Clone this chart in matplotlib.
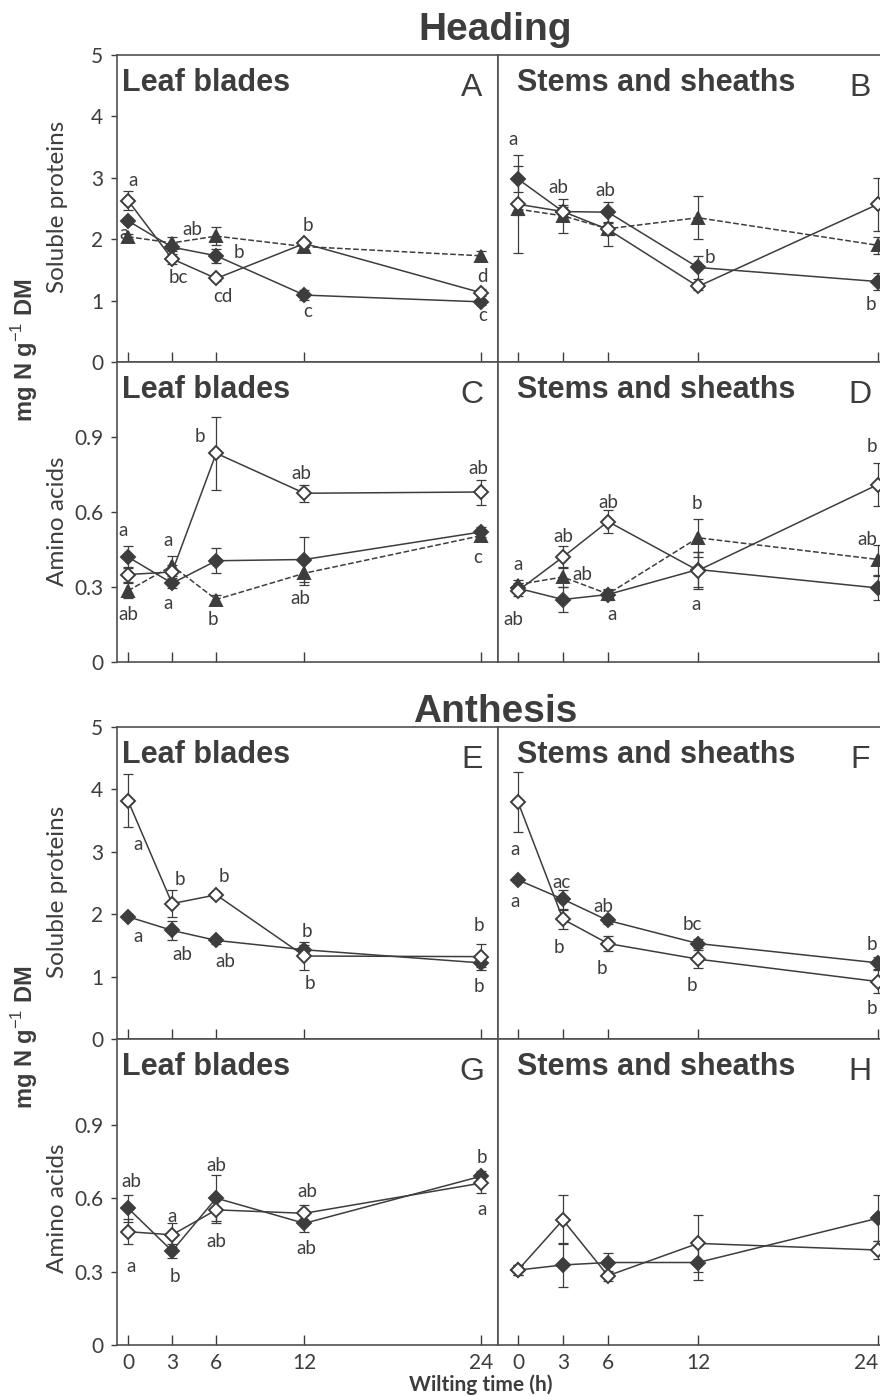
import matplotlib
matplotlib.use('Agg')
import matplotlib.pyplot as plt

plt.rcParams['font.family'] = ['Lato', 'DejaVu Sans']
plt.rcParams['mathtext.fontset'] = 'custom'
plt.rcParams['mathtext.rm'] = 'Liberation Sans'
plt.rcParams['mathtext.bf'] = 'Liberation Sans:bold'

GREY = '#3d3d3d'
W, H = 880, 1396

hours = [0, 3, 6, 12, 24]

# Heading - soluble proteins, leaf blades (A)
a_open = [2.63, 1.68, 1.36, 1.93, 1.13]
a_open_err = [0.15, 0.08, 0.04, 0.05, 0.06]
a_fill = [2.30, 1.87, 1.73, 1.09, 0.98]
a_fill_err = [0.05, 0.06, 0.11, 0.08, 0.05]
a_tri = [2.04, 1.94, 2.05, 1.88, 1.73]
a_tri_err = [0.04, 0.10, 0.15, 0.05, 0.08]
a_letters = [(0.35, 2.95, 'a'), (-0.3, 2.10, 'a'), (4.4, 2.16, 'ab'), (3.4, 1.37, 'bc'),
             (7.55, 1.78, 'b'), (6.45, 1.06, 'cd'), (12.25, 2.22, 'b'), (12.25, 0.82, 'c'),
             (24.1, 1.39, 'd'), (24.1, 0.75, 'c')]

# Heading - soluble proteins, stems and sheaths (B)
b_open = [2.57, 2.45, 2.16, 1.23, 2.57]
b_open_err = [0.80, 0.10, 0.27, 0.05, 0.43]
b_fill = [2.98, 2.45, 2.44, 1.54, 1.31]
b_fill_err = [0.21, 0.08, 0.16, 0.19, 0.14]
b_tri = [2.49, 2.38, 2.17, 2.35, 1.90]
b_tri_err = [0.10, 0.28, 0.10, 0.35, 0.14]
b_letters = [(-0.3, 3.62, 'a'), (2.7, 2.84, 'ab'), (5.8, 2.79, 'ab'), (12.8, 1.71, 'b'),
             (23.5, 0.93, 'b')]

# Heading - amino acids, leaf blades (C)
c_open = [0.35, 0.36, 0.835, 0.675, 0.68]
c_open_err = [0.03, 0.03, 0.145, 0.035, 0.05]
c_fill = [0.42, 0.315, 0.405, 0.41, 0.52]
c_fill_err = [0.045, 0.02, 0.05, 0.09, 0.02]
c_tri = [0.285, 0.385, 0.25, 0.355, 0.505]
c_tri_err = [0.03, 0.04, 0.02, 0.045, 0.02]
c_letters = [(-0.35, 0.524, 'a'), (0.0, 0.19, 'ab'), (2.7, 0.484, 'a'), (2.7, 0.235, 'a'),
             (4.9, 0.90, 'b'), (5.8, 0.17, 'b'), (11.8, 0.754, 'ab'), (11.7, 0.255, 'ab'),
             (23.8, 0.774, 'ab'), (23.8, 0.417, 'c')]

# Heading - amino acids, stems and sheaths (D)
d_open = [0.285, 0.42, 0.562, 0.366, 0.71]
d_open_err = [0.02, 0.045, 0.045, 0.075, 0.085]
d_fill = [0.295, 0.25, 0.27, 0.37, 0.296]
d_fill_err = [0.02, 0.05, 0.02, 0.07, 0.047]
d_tri = [0.31, 0.34, 0.272, 0.497, 0.41]
d_tri_err = [0.02, 0.04, 0.02, 0.075, 0.06]
d_letters = [(0.0, 0.39, 'a'), (-0.3, 0.17, 'ab'), (3.0, 0.50, 'ab'), (4.3, 0.35, 'ab'),
             (6.0, 0.638, 'ab'), (6.3, 0.19, 'a'), (11.9, 0.633, 'b'), (11.9, 0.231, 'a'),
             (23.6, 0.86, 'b'), (23.3, 0.49, 'ab')]

# Anthesis - soluble proteins, leaf blades (E)
e_open = [3.82, 2.17, 2.31, 1.33, 1.32]
e_open_err = [0.42, 0.22, 0.05, 0.22, 0.21]
e_fill = [1.96, 1.74, 1.58, 1.43, 1.22]
e_fill_err = [0.04, 0.15, 0.05, 0.08, 0.07]
e_letters = [(0.7, 3.11, 'a'), (3.5, 2.55, 'b'), (6.5, 2.60, 'b'), (0.7, 1.65, 'a'),
             (3.7, 1.36, 'ab'), (6.6, 1.24, 'ab'), (12.2, 1.72, 'b'), (12.4, 0.89, 'b'),
             (23.9, 1.82, 'b'), (23.9, 0.84, 'b')]

# Anthesis - soluble proteins, stems and sheaths (F)
f_open = [3.80, 1.92, 1.53, 1.28, 0.92]
f_open_err = [0.48, 0.15, 0.12, 0.15, 0.19]
f_fill = [2.55, 2.24, 1.90, 1.53, 1.22]
f_fill_err = [0.04, 0.15, 0.06, 0.07, 0.10]
f_letters = [(-0.2, 3.03, 'a'), (-0.2, 2.20, 'a'), (2.9, 2.50, 'ac'), (2.7, 1.47, 'b'),
             (5.7, 2.12, 'ab'), (5.6, 1.13, 'b'), (11.6, 1.83, 'bc'), (11.6, 0.85, 'b'),
             (23.6, 1.51, 'b'), (23.6, 0.49, 'b')]

# Anthesis - amino acids, leaf blades (G)
g_open = [0.463, 0.45, 0.552, 0.538, 0.661]
g_open_err = [0.05, 0.05, 0.055, 0.035, 0.04]
g_fill = [0.559, 0.384, 0.60, 0.497, 0.689]
g_fill_err = [0.055, 0.03, 0.095, 0.035, 0.02]
g_letters = [(0.2, 0.668, 'ab'), (0.2, 0.32, 'a'), (3.0, 0.525, 'a'), (3.2, 0.279, 'b'),
             (6.0, 0.734, 'ab'), (6.0, 0.422, 'ab'), (12.2, 0.627, 'ab'), (12.1, 0.395, 'ab'),
             (24.1, 0.766, 'b'), (24.1, 0.552, 'a')]

# Anthesis - amino acids, stems and sheaths (H)
h_open = [0.306, 0.511, 0.283, 0.415, 0.388]
h_open_err = [0.02, 0.10, 0.02, 0.115, 0.035]
h_fill = [0.306, 0.327, 0.337, 0.337, 0.518]
h_fill_err = [0.02, 0.09, 0.04, 0.07, 0.095]
h_letters = []

prot_ticks = [0, 1, 2, 3, 4, 5]
amino_ticks = [0, 0.3, 0.6, 0.9]
amino_ticklabels = ['0', '0.3', '0.6', '0.9']


def px(x, y):
    return x / W, 1 - y / H


fig = plt.figure(figsize=(W / 100, H / 100), dpi=100)

# panel edges in pixels: (left, right), (top, bottom)
cols = [(117, 498), (498, 884)]
xlims = [(-0.75, 25.17), (-1.33, 24.4)]
rows = [(55, 362), (362, 662), (727, 1039), (1039, 1345)]
ylims = [(0, 5), (0, 1.2), (0, 5), (0, 1.25)]

panels = [
    ('A', 0, 0, [(a_tri, a_tri_err, 'tri'), (a_fill, a_fill_err, 'fill'), (a_open, a_open_err, 'open')], a_letters),
    ('B', 0, 1, [(b_tri, b_tri_err, 'tri'), (b_fill, b_fill_err, 'fill'), (b_open, b_open_err, 'open')], b_letters),
    ('C', 1, 0, [(c_tri, c_tri_err, 'tri'), (c_fill, c_fill_err, 'fill'), (c_open, c_open_err, 'open')], c_letters),
    ('D', 1, 1, [(d_tri, d_tri_err, 'tri'), (d_fill, d_fill_err, 'fill'), (d_open, d_open_err, 'open')], d_letters),
    ('E', 2, 0, [(e_fill, e_fill_err, 'fill'), (e_open, e_open_err, 'open')], e_letters),
    ('F', 2, 1, [(f_fill, f_fill_err, 'fill'), (f_open, f_open_err, 'open')], f_letters),
    ('G', 3, 0, [(g_fill, g_fill_err, 'fill'), (g_open, g_open_err, 'open')], g_letters),
    ('H', 3, 1, [(h_fill, h_fill_err, 'fill'), (h_open, h_open_err, 'open')], h_letters),
]

for name, r, c, series, letters in panels:
    (x0, x1), (y0, y1) = cols[c], rows[r]
    ax = fig.add_axes([x0 / W, 1 - y1 / H, (x1 - x0) / W, (y1 - y0) / H])
    ax.set_xlim(*xlims[c])
    ax.set_ylim(*ylims[r])

    for vals, errs, kind in series:
        ls = '--' if kind == 'tri' else '-'
        mk = '^' if kind == 'tri' else 'D'
        ms = 8 if kind == 'tri' else 6.8
        fc = 'white' if kind == 'open' else GREY
        ax.errorbar(hours, vals, yerr=errs, fmt='none', ecolor=GREY, elinewidth=0.9,
                    capsize=3.6, capthick=0.9, zorder=2)
        ax.plot(hours, vals, ls=ls, color=GREY, lw=1.1, marker=mk, ms=ms,
                mfc=fc, mec=GREY, mew=1.4, zorder=3)

    for lx, ly, txt in letters:
        ax.text(lx, ly, txt, ha='center', va='center', fontsize=13.5, color=GREY)

    for s in ax.spines.values():
        s.set_color('#505050')
        s.set_linewidth(1.2)

    ax.set_xticks(hours)
    ax.tick_params(axis='x', direction='in', length=7, width=1, color=GREY,
                   labelsize=15, labelcolor=GREY, pad=6, labelbottom=(r == 3))
    if r == 3 and c == 1:
        # last label at the right edge is pulled inside, as in the original
        ax.get_xticklabels()[-1].set_ha('right')
    if c == 0:
        if r in (0, 2):
            ax.set_yticks(prot_ticks)
        else:
            ax.set_yticks(amino_ticks)
            ax.set_yticklabels(amino_ticklabels)
        ax.tick_params(axis='y', direction='out', length=4, width=1, color=GREY,
                       labelsize=15, labelcolor=GREY, pad=6)
    else:
        ax.set_yticks([])

    tissue = 'Leaf blades' if c == 0 else 'Stems and sheaths'
    tx = 122 if c == 0 else 517
    fig.text(*px(tx, y0 + 28), tissue, ha='left', va='center', fontsize=22,
             fontweight='bold', family='Liberation Sans', color=GREY)
    lx = 472 if c == 0 else 860
    fig.text(*px(lx, y0 + 33), name, ha='center', va='center', fontsize=23,
             family='Liberation Sans', color=GREY)

fig.text(*px(495, 30), 'Heading', ha='center', va='center', fontsize=28,
         fontweight='bold', family='Liberation Sans', color=GREY)
fig.text(*px(495, 712), 'Anthesis', ha='center', va='center', fontsize=28,
         fontweight='bold', family='Liberation Sans', color=GREY)

for yc, lab in [(207, 'Soluble proteins'), (521, 'Amino acids'),
                (892, 'Soluble proteins'), (1208, 'Amino acids')]:
    fig.text(*px(57, yc), lab, ha='center', va='center', rotation=90,
             fontsize=17.5, color=GREY)

for yc in [350, 1037]:
    fig.text(*px(25, yc), r'mg N g$^{-1}$ DM', ha='center', va='center', rotation=90,
             fontsize=17, fontweight='bold', family='Liberation Sans', color=GREY)

fig.text(*px(481, 1385), 'Wilting time (h)', ha='center', va='center',
         fontsize=15, fontweight='bold', color=GREY)

fig.savefig('out.png', dpi=100)
